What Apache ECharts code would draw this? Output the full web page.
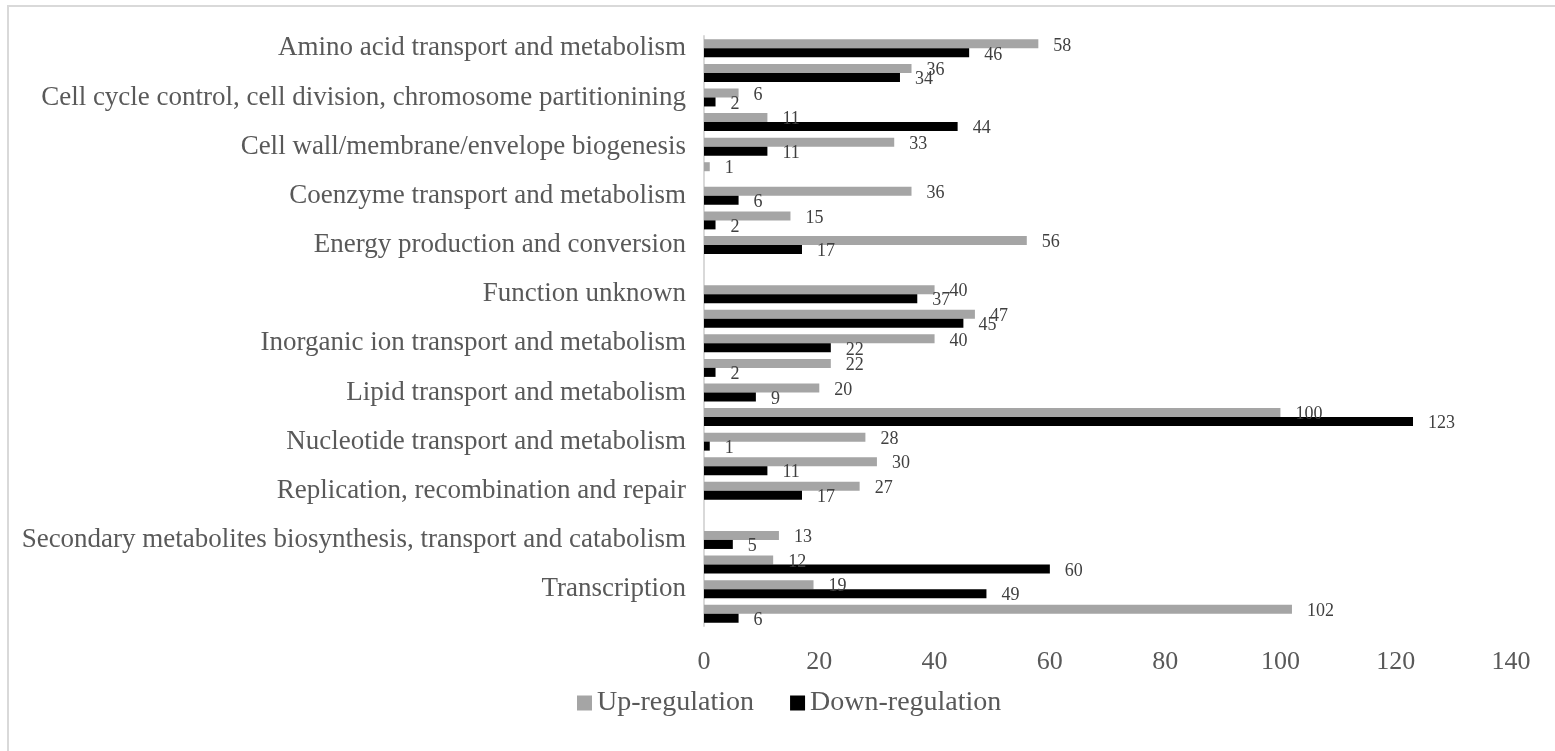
<!DOCTYPE html>
<html>
<head>
<meta charset="utf-8">
<script src="https://cdn.jsdelivr.net/npm/echarts@6/dist/echarts.min.js"></script>
<style>
  html, body { margin: 0; padding: 0; background: #ffffff; }
  #chart { width: 1555px; height: 751px; }
</style>
</head>
<body>
<div id="chart"></div>
<script>
// COG functional categories, top to bottom
const categories = [
  'Amino acid transport and metabolism',
  'Carbohydrate transport and metabolism',
  'Cell cycle control, cell division, chromosome partitionining',
  'Cell motility',
  'Cell wall/membrane/envelope biogenesis',
  'Chromatin structure and dynamics',
  'Coenzyme transport and metabolism',
  'Defense mechanisms',
  'Energy production and conversion',
  'Extracellular structures',
  'Function unknown',
  'General function prediction only',
  'Inorganic ion transport and metabolism',
  'Intracellular trafficking, secretion, and vesicular transport',
  'Lipid transport and metabolism',
  'Mobilome: prophages, transposons',
  'Nucleotide transport and metabolism',
  'Posttranslational modification, protein turnover, chaperones',
  'Replication, recombination and repair',
  'RNA processing and modification',
  'Secondary metabolites biosynthesis, transport and catabolism',
  'Signal transduction mechanisms',
  'Transcription',
  'Translation, ribosomal structure and biogenesis'
];

// Gene counts per category
const upRegulation = [58, 36, 6, 11, 33, 1, 36, 15, 56, null, 40, 47, 40, 22, 20, 100, 28, 30, 27, null, 13, 12, 19, 102];
const downRegulation = [46, 34, 2, 44, 11, null, 6, 2, 17, null, 37, 45, 22, 2, 9, 123, 1, 11, 17, null, 5, 60, 49, 6];

// Value axis ticks
const xTicks = { min: 0, max: 140, interval: 20 };

const FONT = '"Liberation Serif", "Times New Roman", serif';

const chart = echarts.init(document.getElementById('chart'), null, { renderer: 'canvas' });

const labelStyle = {
  show: true,
  position: 'right',
  distance: 15,
  color: '#404040',
  fontFamily: FONT,
  fontSize: 18,
  offset: [0, 2]
};

chart.setOption({
  backgroundColor: '#ffffff',
  animation: false,
  graphic: [{
    type: 'rect',
    shape: { x: 8, y: 6, width: 1600, height: 800 },
    style: { fill: 'none', stroke: '#d9d9d9', lineWidth: 2 },
    silent: true
  }],
  grid: {
    left: 704,
    right: 44,
    top: 36,
    bottom: 125,
    containLabel: false,
    outerBoundsMode: 'none'
  },
  legend: {
    left: 577,
    top: 689,
    padding: 0,
    itemWidth: 15,
    itemHeight: 15,
    itemGap: 36,
    icon: 'rect',
    textStyle: { color: '#595959', fontFamily: FONT, fontSize: 28 },
    data: ['Up-regulation', 'Down-regulation']
  },
  xAxis: {
    type: 'value',
    min: xTicks.min,
    max: xTicks.max,
    interval: xTicks.interval,
    axisLine: { show: false },
    axisTick: { show: false },
    splitLine: { show: false },
    axisLabel: {
      color: '#595959',
      fontFamily: FONT,
      fontSize: 26,
      margin: 23
    }
  },
  yAxis: {
    type: 'category',
    data: categories,
    inverse: true,
    axisLine: { show: true, lineStyle: { color: '#d9d9d9', width: 2 } },
    axisTick: { show: false },
    splitLine: { show: false },
    axisLabel: {
      interval: 1,
      color: '#595959',
      fontFamily: FONT,
      fontSize: 27,
      margin: 18
    }
  },
  series: [
    {
      name: 'Up-regulation',
      type: 'bar',
      data: upRegulation,
      barWidth: 9,
      barGap: '0%',
      itemStyle: { color: '#a5a5a5' },
      label: labelStyle
    },
    {
      name: 'Down-regulation',
      type: 'bar',
      data: downRegulation,
      barWidth: 9,
      barGap: '0%',
      itemStyle: { color: '#000000' },
      label: labelStyle
    }
  ]
});
</script>
</body>
</html>
